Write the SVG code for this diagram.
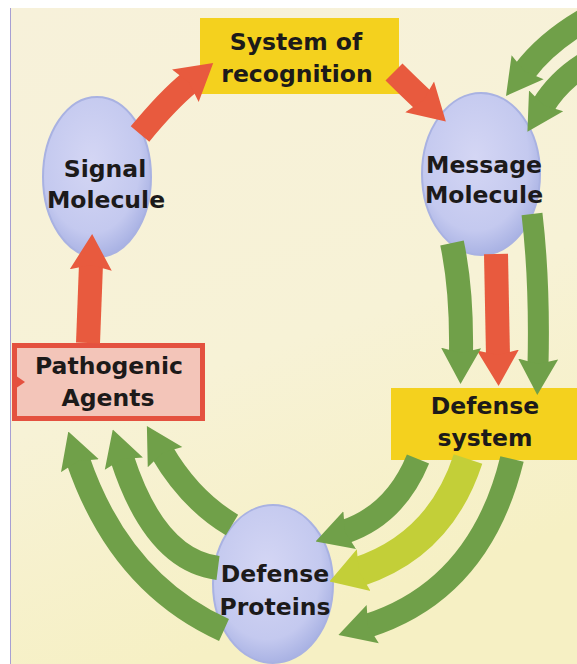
<svg xmlns="http://www.w3.org/2000/svg" width="577" height="664" viewBox="0 0 577 664">
<defs>
<linearGradient id="bg" x1="0" y1="0" x2="0.3" y2="1">
<stop offset="0" stop-color="#f7f1da"/>
<stop offset="0.6" stop-color="#f7f2d6"/>
<stop offset="1" stop-color="#f6f0c4"/>
</linearGradient>
<radialGradient id="egg" cx="0.45" cy="0.4" r="0.6">
<stop offset="0" stop-color="#d4d6f4"/>
<stop offset="0.75" stop-color="#c4c9ef"/>
<stop offset="1" stop-color="#aab3e4"/>
</radialGradient>
<marker id="hr" viewBox="0 0 36 44" refX="6" refY="22" markerWidth="36" markerHeight="44" markerUnits="userSpaceOnUse" orient="auto">
<path d="M0,1 L36,22 L0,43 L5,22 Z" fill="#e85a3e"/>
</marker>
<marker id="hg" viewBox="0 0 36 42" refX="6" refY="21" markerWidth="36" markerHeight="42" markerUnits="userSpaceOnUse" orient="auto">
<path d="M0,1 L36,21 L0,41 L5,21 Z" fill="#70a049"/>
</marker>
<marker id="hy" viewBox="0 0 36 46" refX="6" refY="23" markerWidth="36" markerHeight="46" markerUnits="userSpaceOnUse" orient="auto">
<path d="M0,1 L36,23 L0,45 L5,23 Z" fill="#c3cf38"/>
</marker>
</defs>
<style>
.lbl{font-family:"DejaVu Sans","Liberation Sans",sans-serif;font-weight:bold;font-size:23.5px;fill:#1c1a1a;text-anchor:middle}
.box{fill:#f4d11e}
.egg{fill:url(#egg);stroke:#a9b2e2;stroke-width:2}
.red{fill:none;stroke:#e85a3e;stroke-width:24;marker-end:url(#hr)}
.grn{fill:none;stroke:#70a049;stroke-width:24;marker-end:url(#hg)}
.ylw{fill:none;stroke:#c3cf38;stroke-width:30;marker-end:url(#hy)}
</style>
<rect x="0" y="0" width="577" height="664" fill="#ffffff"/>
<rect x="10" y="8" width="567" height="656" fill="url(#bg)"/>
<line x1="10.5" y1="8" x2="10.5" y2="664" stroke="#a79fd3" stroke-width="1"/>

<g id="system-of-recognition">
<rect class="box" x="200" y="18" width="199" height="76"/>
<text class="lbl" x="296" y="50">System of</text>
<text class="lbl" x="297" y="82">recognition</text>
</g>
<g id="signal-molecule">
<ellipse class="egg" cx="97" cy="177" rx="54" ry="80"/>
<text class="lbl" x="105" y="177">Signal</text>
<text class="lbl" x="106" y="208">Molecule</text>
</g>
<g id="message-molecule">
<ellipse class="egg" cx="481" cy="174" rx="59" ry="81"/>
<text class="lbl" x="484" y="173">Message</text>
<text class="lbl" x="484" y="203">Molecule</text>
</g>
<g id="pathogenic-agents">
<rect x="14.5" y="345.5" width="188" height="73" fill="#f3c5b9" stroke="#e4513f" stroke-width="5"/>
<text class="lbl" x="109" y="374">Pathogenic</text>
<text class="lbl" x="108" y="406">Agents</text>
</g>
<g id="defense-system">
<rect class="box" x="391" y="388" width="186" height="72"/>
<text class="lbl" x="485" y="414">Defense</text>
<text class="lbl" x="485" y="446">system</text>
</g>
<g id="defense-proteins">
<ellipse class="egg" cx="273" cy="584" rx="60" ry="79"/>
<text class="lbl" x="275" y="582">Defense</text>
<text class="lbl" x="275" y="615">Proteins</text>
</g>

<g id="connectors">
<path class="red" d="M140,134 Q168,100 190,82"/>
<path class="red" d="M394,72 Q407,85 424,101"/>
<path class="red" d="M88,343 L91,264"/>
<path class="red" d="M496,254 L498,356"/>
<polygon points="12,373 25,382 12,391" fill="#e4513f"/>
<path class="grn" d="M592,16 Q548,40 524,72"/>
<path class="grn" d="M592,60 Q560,78 543,106"/>
<path class="grn" d="M452,243 Q462,290 461,354"/>
<path class="grn" d="M532,214 Q540,282 538,365" style="stroke-width:21"/>
<path class="grn" d="M418,459 Q395,515 344,532"/>
<path class="ylw" d="M468,459 Q440,545 358,572"/>
<path class="grn" d="M512,459 Q480,590 367,626"/>
<path class="grn" d="M232,525 Q190,500 162,452"/>
<path class="grn" d="M218,568 Q155,560 122,458"/>
<path class="grn" d="M224,630 Q120,583 78,460"/>
</g>
</svg>
